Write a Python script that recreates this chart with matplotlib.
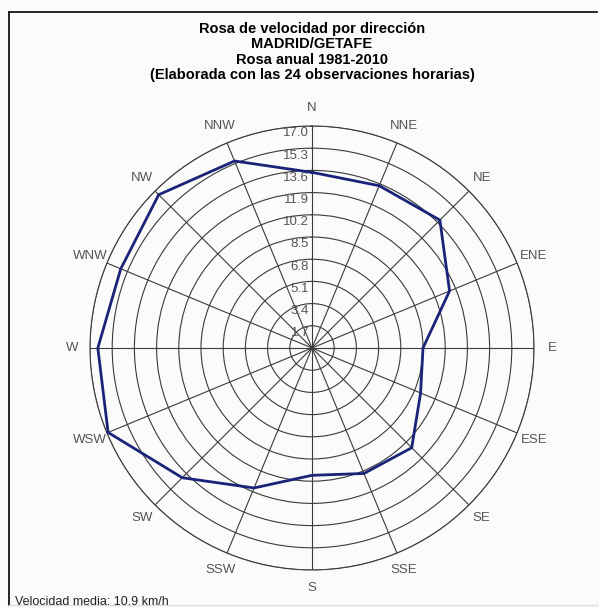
import numpy as np
import matplotlib.pyplot as plt
from matplotlib.lines import Line2D

direcciones = ["N", "NNE", "NE", "ENE", "E", "ESE", "SE", "SSE",
               "S", "SSW", "SW", "WSW", "W", "WNW", "NW", "NNW"]
velocidad = [13.45, 13.45, 13.85, 11.4, 8.5, 9.0, 10.8, 10.4,
             9.75, 11.6, 14.05, 16.9, 16.4, 15.85, 16.6, 15.5]
anillos = [1.7, 3.4, 5.1, 6.8, 8.5, 10.2, 11.9, 13.6, 15.3, 17.0]
titulo = ("Rosa de velocidad por dirección\nMADRID/GETAFE\n"
          "Rosa anual 1981-2010\n(Elaborada con las 24 observaciones horarias)")
pie = "Velocidad media: 10.9 km/h"

fondo = "#fbfbfb"
gris = "#555555"
fuente = ["Liberation Sans Narrow", "Liberation Sans", "DejaVu Sans"]

fig = plt.figure(figsize=(5.99, 6.08), dpi=100, facecolor=fondo)

# marco hundido estilo Windows
fig.add_artist(Line2D([9/599, 597/599], [1 - 12/608, 1 - 12/608], color="black", lw=1.2))
fig.add_artist(Line2D([9/599, 9/599], [1 - 12/608, 3/608], color="black", lw=1.2))
fig.add_artist(Line2D([9/599, 597/599], [3/608, 3/608], color="#dddddd", lw=1))

fig.text(312/599, 1 - 52/608, titulo, ha="center", va="center", fontsize=10.5,
         fontweight="bold", family=fuente, linespacing=1.12)

ax = fig.add_axes([90/599, 38/608, 444/599, 444/608], projection="polar")
ax.set_facecolor(fondo)
ax.set_theta_zero_location("N")
ax.set_theta_direction(-1)
ax.set_ylim(0, 17.0)

theta = np.deg2rad(np.arange(16) * 22.5)
ax.set_xticks(theta)
ax.set_xticklabels([])
ax.set_yticks(anillos)
ax.set_yticklabels([])
ax.grid(True, color="#3a3a3a", lw=0.8)
ax.spines["polar"].set_color("#3a3a3a")
ax.spines["polar"].set_linewidth(0.8)

for t, d in zip(theta, direcciones):
    ax.text(t, 17.0 * 240 / 222, d, ha="center", va="center", fontsize=9.5,
            color=gris, family=fuente)

for r in anillos:
    ax.annotate(f"{r:.1f}", xy=(0, r), xytext=(-2, -1), textcoords="offset points",
                ha="right", va="top", fontsize=9.5, color=gris, family=fuente)

th = np.append(theta, theta[0])
v = np.append(velocidad, velocidad[0])
ax.plot(th, v, color="#1b2378", lw=2, zorder=5)

fig.text(15/599, 1 - 602/608, pie, ha="left", va="center", fontsize=9,
         color="#222222", family=fuente)

plt.savefig("out.png", dpi=100, facecolor=fondo)
